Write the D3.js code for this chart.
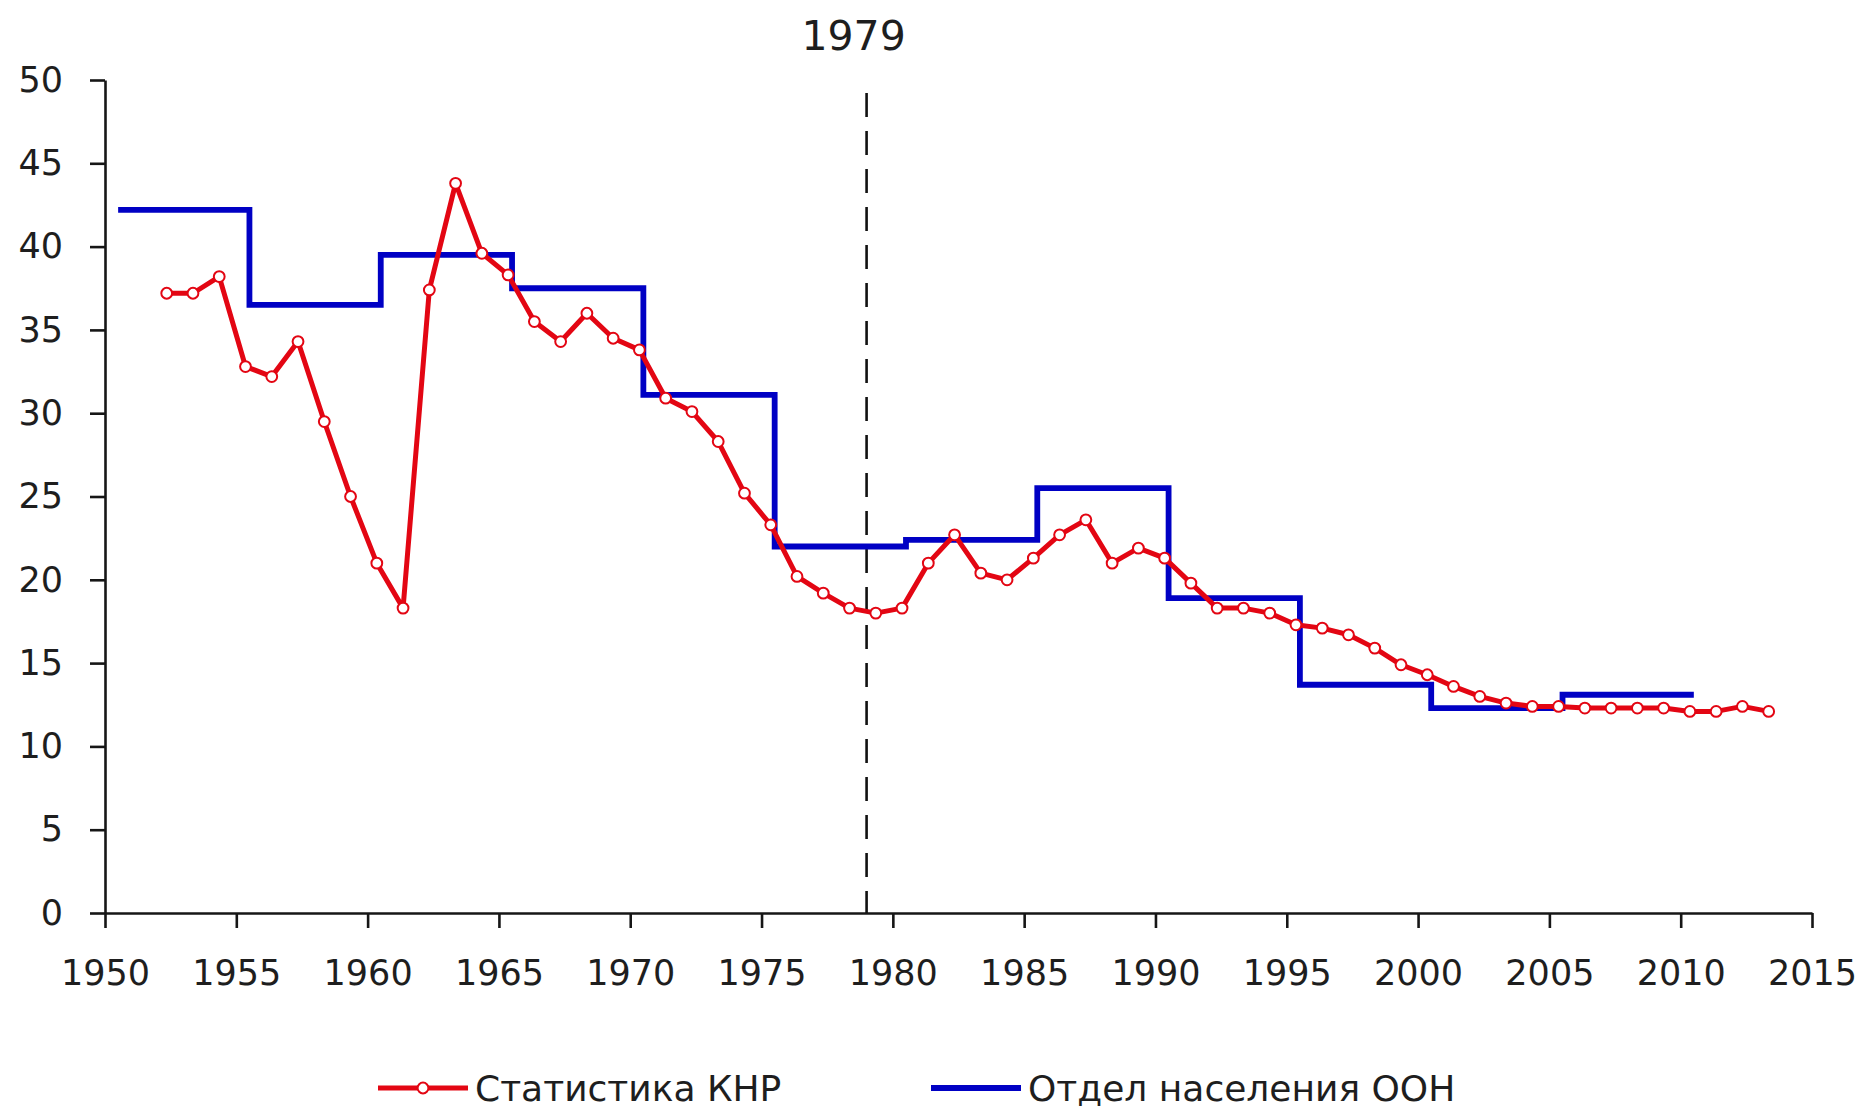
<!DOCTYPE html>
<html>
<head>
<meta charset="utf-8">
<script src="https://cdn.jsdelivr.net/npm/d3@7/dist/d3.min.js"></script>
<style>
  body { margin: 0; background: #fff; }
  svg { display: block; }
  text { font-family: 'DejaVu Sans', Verdana, sans-serif; fill: #1e1e1e; }
</style>
</head>
<body>
<div id="chart"></div>
<script>
// crude birth rate, per 1000 — PRC statistics (yearly)
const prcYears = [
  1952, 1953, 1954, 1955, 1956, 1957, 1958, 1959, 1960, 1961,
  1962, 1963, 1964, 1965, 1966, 1967, 1968, 1969, 1970, 1971,
  1972, 1973, 1974, 1975, 1976, 1977, 1978, 1979, 1980, 1981,
  1982, 1983, 1984, 1985, 1986, 1987, 1988, 1989, 1990, 1991,
  1992, 1993, 1994, 1995, 1996, 1997, 1998, 1999, 2000, 2001,
  2002, 2003, 2004, 2005, 2006, 2007, 2008, 2009, 2010, 2011,
  2012, 2013
]
const prcRate = [
  37.2, 37.2, 38.2, 32.8, 32.2, 34.3, 29.5, 25.0, 21.0, 18.3,
  37.4, 43.8, 39.6, 38.3, 35.5, 34.3, 36.0, 34.5, 33.8, 30.9,
  30.1, 28.3, 25.2, 23.3, 20.2, 19.2, 18.3, 18.0, 18.3, 21.0,
  22.7, 20.4, 20.0, 21.3, 22.7, 23.6, 21.0, 21.9, 21.3, 19.8,
  18.3, 18.3, 18.0, 17.3, 17.1, 16.7, 15.9, 14.9, 14.3, 13.6,
  13.0, 12.6, 12.4, 12.4, 12.3, 12.3, 12.3, 12.3, 12.1, 12.1,
  12.4, 12.1
]

// UN Population Division, five-year periods (start year)
const unPeriods = [1950, 1955, 1960, 1965, 1970, 1975, 1980, 1985, 1990, 1995, 2000, 2005]
const unRate = [42.2, 36.5, 39.5, 37.5, 31.1, 22.0, 22.4, 25.5, 18.9, 13.7, 12.3, 13.1]
const periodLength = 5

const xTicks = [1950, 1955, 1960, 1965, 1970, 1975, 1980, 1985, 1990, 1995, 2000, 2005, 2010, 2015]
const yTicks = [0, 5, 10, 15, 20, 25, 30, 35, 40, 45, 50]
const markYear = 1979

const seriesNames = ['Статистика КНР', 'Отдел населения ООН']

const colors = {
  prc: '#e30613',
  un: '#0000c4',
  axis: '#161616'
}

const width = 1864
const height = 1110
const margin = { top: 80, right: 52, bottom: 197, left: 105 }

// yearly points sit a bit past the year mark, periods start mid-year
const PRC_OFFSET = 0.35
const UN_OFFSET = 0.5

const svg = d3.select('#chart').append('svg')
  .attr('width', width)
  .attr('height', height)

svg.append('rect').attr('width', width).attr('height', height).attr('fill', '#fff')

const x = d3.scaleLinear([1950, 2015], [margin.left, width - margin.right])
const y = d3.scaleLinear([0, 50], [height - margin.bottom, margin.top])

// axes
const xAxis = svg.append('g')
  .attr('transform', `translate(0,${y(0)})`)
  .call(d3.axisBottom(x).tickValues(xTicks).tickFormat(d3.format('d')).tickSize(15).tickSizeOuter(0).tickPadding(32))

const yAxis = svg.append('g')
  .attr('transform', `translate(${x(1950)},0)`)
  .call(d3.axisLeft(y).tickValues(yTicks).tickSize(15).tickSizeOuter(0).tickPadding(27))

;[xAxis, yAxis].forEach(g => {
  g.selectAll('path, line').attr('stroke', colors.axis).attr('stroke-width', 2.6)
  g.selectAll('text').attr('font-size', 35).attr('fill', '#1e1e1e')
    .attr('font-family', "'DejaVu Sans', Verdana, sans-serif")
})

// 1979 marker
svg.append('line')
  .attr('x1', x(markYear)).attr('x2', x(markYear))
  .attr('y1', 93).attr('y2', y(0))
  .attr('stroke', '#111')
  .attr('stroke-width', 2.6)
  .attr('stroke-dasharray', '24,14')

svg.append('text')
  .attr('x', x(markYear) - 13)
  .attr('y', 50)
  .attr('text-anchor', 'middle')
  .attr('font-family', "'Liberation Sans', Arial, sans-serif")
  .attr('font-size', 41)
  .text(markYear)

// UN step line
const unPoints = unPeriods.map((p, i) => [p + UN_OFFSET, unRate[i]])
unPoints.push([unPeriods[unPeriods.length - 1] + periodLength + UN_OFFSET, unRate[unRate.length - 1]])

const stepLine = d3.line()
  .x(d => x(d[0]))
  .y(d => y(d[1]))
  .curve(d3.curveStepAfter)

svg.append('path')
  .datum(unPoints)
  .attr('fill', 'none')
  .attr('stroke', colors.un)
  .attr('stroke-width', 5.8)
  .attr('stroke-linejoin', 'miter')
  .attr('d', stepLine)

// PRC line + markers
const prcData = prcYears.map((yr, i) => ({ year: yr, value: prcRate[i] }))

const line = d3.line()
  .x(d => x(d.year + PRC_OFFSET))
  .y(d => y(d.value))

svg.append('path')
  .datum(prcData)
  .attr('fill', 'none')
  .attr('stroke', colors.prc)
  .attr('stroke-width', 5)
  .attr('stroke-linejoin', 'round')
  .attr('d', line)

svg.append('g').selectAll('circle')
  .data(prcData)
  .join('circle')
  .attr('cx', d => x(d.year + PRC_OFFSET))
  .attr('cy', d => y(d.value))
  .attr('r', 5.4)
  .attr('fill', '#fff')
  .attr('stroke', colors.prc)
  .attr('stroke-width', 2)

// legend
const legendY = 1088
const legendItems = [
  { name: seriesNames[0], color: colors.prc, marker: true, x: 378, width: 5 },
  { name: seriesNames[1], color: colors.un, marker: false, x: 931, width: 5.8 }
]

const legend = svg.append('g')
  .selectAll('g')
  .data(legendItems)
  .join('g')
  .attr('transform', d => `translate(${d.x},${legendY})`)

legend.append('line')
  .attr('x1', 0).attr('x2', 90)
  .attr('stroke', d => d.color)
  .attr('stroke-width', d => d.width)

legend.filter(d => d.marker).append('circle')
  .attr('cx', 45)
  .attr('r', 5.4)
  .attr('fill', '#fff')
  .attr('stroke', d => d.color)
  .attr('stroke-width', 2)

legend.append('text')
  .attr('x', 97)
  .attr('dy', '0.36em')
  .attr('font-size', 36)
  .text(d => d.name)
</script>
</body>
</html>
